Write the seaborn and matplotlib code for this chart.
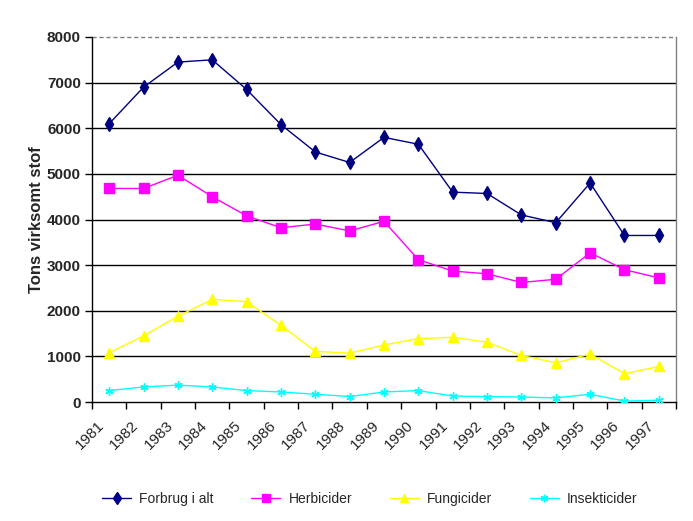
import numpy as np
import pandas as pd
import matplotlib
matplotlib.use("Agg")
import matplotlib.pyplot as plt
import matplotlib.transforms as mtransforms
from matplotlib.ticker import FixedLocator
import seaborn as sns

years = [1981, 1982, 1983, 1984, 1985, 1986, 1987, 1988, 1989,
         1990, 1991, 1992, 1993, 1994, 1995, 1996, 1997]
forbrug = [6100, 6900, 7450, 7500, 6850, 6080, 5480, 5250, 5800,
           5650, 4600, 4570, 4100, 3930, 4800, 3650, 3650]
herbicider = [4680, 4680, 4970, 4500, 4080, 3820, 3900, 3750, 3960,
              3120, 2870, 2810, 2620, 2690, 3270, 2900, 2720]
fungicider = [1080, 1450, 1880, 2250, 2200, 1680, 1110, 1070, 1250,
              1390, 1420, 1310, 1020, 860, 1050, 620, 780]
insekticider = [250, 330, 370, 330, 250, 220, 170, 120, 220,
                250, 130, 120, 110, 90, 170, 20, 40]
series_names = ["Forbrug i alt", "Herbicider", "Fungicider", "Insekticider"]
y_label = "Tons virksomt stof"
y_ticks = [0, 1000, 2000, 3000, 4000, 5000, 6000, 7000, 8000]

sns.set_style("white")
plt.rcParams["font.family"] = ["Liberation Sans", "DejaVu Sans"]

df = pd.DataFrame({
    "year": years * 4,
    "value": forbrug + herbicider + fungicider + insekticider,
    "series": sum([[n] * len(years) for n in series_names], []),
})

colors = {"Forbrug i alt": "#000080", "Herbicider": "#FF00FF",
          "Fungicider": "#FFFF00", "Insekticider": "#00FFFF"}
markers = {"Forbrug i alt": "d", "Herbicider": "s",
           "Fungicider": "^", "Insekticider": (6, 2, 0)}
msizes = {"Forbrug i alt": 7, "Herbicider": 6.5,
          "Fungicider": 7, "Insekticider": 6}

fig = plt.figure(figsize=(6.93, 5.21), dpi=100)
ax = fig.add_axes([92 / 693, 1 - 402 / 521, (676 - 92) / 693, (402 - 37) / 521])

for name in series_names:
    sub = df[df["series"] == name]
    sns.lineplot(data=sub, x="year", y="value", ax=ax, color=colors[name],
                 marker=markers[name], markersize=msizes[name],
                 markeredgecolor=colors[name], markerfacecolor=colors[name],
                 markeredgewidth=1, linewidth=1, label=name, legend=False,
                 zorder=3)

ax.set_xlim(years[0] - 0.5, years[-1] + 0.5)
ax.set_ylim(0, 8000)
ax.set_yticks(y_ticks)
ax.set_yticklabels([str(t) for t in y_ticks], fontweight="bold")
for t in y_ticks[1:-1]:
    ax.axhline(t, color="black", linewidth=1, zorder=1)
ax.axhline(8000, color="#808080", linewidth=1, linestyle=(0, (3, 2)), zorder=1, clip_on=False)

ax.set_xticks(years)
ax.set_xticklabels([str(y) for y in years], rotation=45, ha="right", va="top",
                   rotation_mode="anchor")
ax.xaxis.set_minor_locator(FixedLocator([y - 0.5 for y in years] + [years[-1] + 0.5]))
ax.tick_params(axis="x", which="major", length=0, pad=11.5, labelsize=11)
ax.tick_params(axis="x", which="minor", length=5, width=1, color="black", direction="out", bottom=True)
ax.tick_params(axis="y", which="major", length=5, width=1, color="black", direction="out",
               left=True, pad=3, labelsize=11)
offset = mtransforms.ScaledTranslation(-0.12, 0, fig.dpi_scale_trans)
for lab in ax.get_xticklabels():
    lab.set_transform(lab.get_transform() + offset)

for s in ["left", "bottom"]:
    ax.spines[s].set_color("black")
    ax.spines[s].set_linewidth(1)
ax.spines["top"].set_visible(False)
ax.spines["right"].set_color("#808080")
ax.spines["right"].set_linewidth(1)

ax.set_xlabel("")
ax.set_ylabel(y_label, fontsize=12, fontweight="bold")
ax.yaxis.set_label_coords(-(92 - 43.5) / 584, 0.5)

handles = ax.get_lines()[:4]
leg = fig.legend(handles, series_names, loc="center left",
                 bbox_to_anchor=(102 / 693, 1 - 499 / 521), ncol=4, frameon=False,
                 fontsize=10, handlelength=2.1, handletextpad=0.58,
                 columnspacing=2.7, borderpad=0, borderaxespad=0, markerscale=0.9)

fig.savefig("out.png", dpi=100)
